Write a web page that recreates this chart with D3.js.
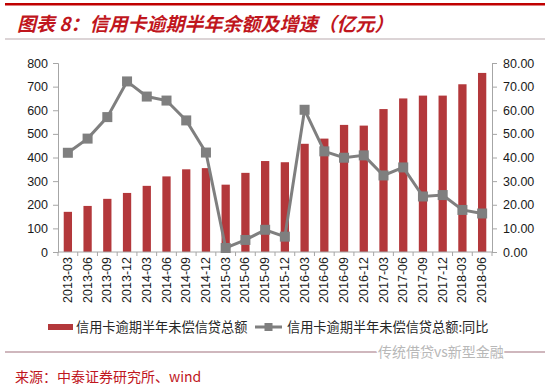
<!DOCTYPE html>
<html>
<head>
<meta charset="utf-8">
<script src="https://cdn.jsdelivr.net/npm/d3@7"></script>
<style>
  body { margin: 0; background: #fff; }
  svg { display: block; font-family: "Liberation Sans", "Noto Sans", sans-serif; }
</style>
</head>
<body>
<svg id="chart" width="550" height="387"></svg>
<script>
// data
var quarters = ["2013-03","2013-06","2013-09","2013-12","2014-03","2014-06","2014-09","2014-12",
  "2015-03","2015-06","2015-09","2015-12","2016-03","2016-06","2016-09","2016-12",
  "2017-03","2017-06","2017-09","2017-12","2018-03","2018-06"];
var balance = [170, 195, 225, 250, 280, 320, 350, 355, 285, 335, 385, 380,
  458, 480, 538, 535, 605, 650, 662, 662, 710, 758];
var growth = [42.0, 48.0, 57.1, 72.2, 65.8, 64.1, 55.7, 42.1, 1.7, 5.1, 9.4, 6.5,
  60.2, 42.6, 39.9, 40.9, 32.4, 35.8, 23.5, 24.1, 17.8, 16.3];
var leftTicks = [0, 100, 200, 300, 400, 500, 600, 700, 800];
var rightTicks = [0, 10, 20, 30, 40, 50, 60, 70, 80];

var svg = d3.select("#chart");
// plot box (note: "top" is reserved on window, so use plot* names)
var plotL = 58, plotR = 492, plotT = 63, plotB = 252;

var x = d3.scaleBand().domain(quarters).range([plotL, plotR]).paddingInner(0.58).paddingOuter(0.29);
var xb = d3.scaleBand().domain(quarters).range([plotL, plotR]);
var yL = d3.scaleLinear().domain([0, 800]).range([plotB, plotT]);
var yR = d3.scaleLinear().domain([0, 80]).range([plotB, plotT]);

// title
svg.append("rect").attr("x", 5).attr("y", 3).attr("width", 540).attr("height", 2.5).attr("fill", "#c00000");
svg.append("text").attr("x", 17).attr("y", 31)
  .attr("font-family", "Noto Sans CJK SC").attr("font-size", 19).attr("font-style", "italic")
  .attr("font-weight", "bold").attr("fill", "#c0161d")
  .text("图表 8：信用卡逾期半年余额及增速（亿元）");
svg.append("line").attr("x1", 5).attr("x2", 545).attr("y1", 39).attr("y2", 39)
  .attr("stroke", "#b9a9ad").attr("stroke-width", 1.2);

// bars
svg.append("g").selectAll("rect").data(balance).enter().append("rect")
  .attr("x", function(d, i) { return x(quarters[i]); })
  .attr("width", x.bandwidth())
  .attr("y", function(d) { return yL(d); })
  .attr("height", function(d) { return plotB - yL(d); })
  .attr("fill", "#b3383b");

// axes
var axisColor = "#a6a6a6";
var gl = svg.append("g").attr("transform", "translate(" + plotL + ",0)")
  .call(d3.axisLeft(yL).tickValues(leftTicks).tickSize(5).tickPadding(5));
var gr = svg.append("g").attr("transform", "translate(" + plotR + ",0)")
  .call(d3.axisRight(yR).tickValues(rightTicks).tickSize(5).tickPadding(6).tickFormat(d3.format(".2f")));
[gl, gr].forEach(function(g) {
  g.select(".domain").attr("stroke", axisColor);
  g.selectAll(".tick line").attr("stroke", axisColor);
  g.selectAll("text").attr("font-size", 12.5).attr("fill", "#1a1a1a");
});

// x axis line + ticks at band edges
svg.append("line").attr("x1", plotL).attr("x2", plotR).attr("y1", plotB).attr("y2", plotB)
  .attr("stroke", axisColor);
svg.append("g").selectAll("line").data(quarters.concat(["end"])).enter().append("line")
  .attr("x1", function(d, i) { return plotL + i * xb.step(); })
  .attr("x2", function(d, i) { return plotL + i * xb.step(); })
  .attr("y1", plotB).attr("y2", plotB + 4)
  .attr("stroke", axisColor);
svg.append("g").selectAll("text").data(quarters).enter().append("text")
  .attr("transform", function(d) { return "translate(" + (xb(d) + xb.bandwidth() / 2 + 4) + "," + (plotB + 5) + ") rotate(-90)"; })
  .attr("text-anchor", "end").attr("font-size", 12.5).attr("fill", "#1a1a1a")
  .text(function(d) { return d; });

// line
var cx = function(d, i) { return xb(quarters[i]) + xb.bandwidth() / 2; };
svg.append("path").datum(growth)
  .attr("d", d3.line().x(cx).y(function(d) { return yR(d); }))
  .attr("fill", "none").attr("stroke", "#7f7f7f").attr("stroke-width", 3);
svg.append("g").selectAll("rect").data(growth).enter().append("rect")
  .attr("x", function(d, i) { return cx(d, i) - 5; })
  .attr("y", function(d) { return yR(d) - 5; })
  .attr("width", 10).attr("height", 10).attr("fill", "#7f7f7f");

// legend
var lg = svg.append("g").attr("font-family", "Noto Sans CJK SC").attr("font-size", 13.2).attr("fill", "#262626");
lg.append("rect").attr("x", 48).attr("y", 324).attr("width", 25).attr("height", 6).attr("fill", "#b3383b");
lg.append("text").attr("x", 76).attr("y", 332).text("信用卡逾期半年未偿信贷总额");
lg.append("line").attr("x1", 255).attr("x2", 282).attr("y1", 327).attr("y2", 327)
  .attr("stroke", "#7f7f7f").attr("stroke-width", 3);
lg.append("rect").attr("x", 264.5).attr("y", 323).attr("width", 8).attr("height", 8).attr("fill", "#7f7f7f");
lg.append("text").attr("x", 287).attr("y", 332).text("信用卡逾期半年未偿信贷总额:同比");

// footer
svg.append("line").attr("x1", 5).attr("x2", 545).attr("y1", 352).attr("y2", 352)
  .attr("stroke", "#a0707c").attr("stroke-width", 1.2);
svg.append("text").attr("x", 378).attr("y", 357)
  .attr("font-family", "Noto Sans CJK SC").attr("font-size", 14).attr("fill", "#b8b8b8")
  .attr("stroke", "#fff").attr("stroke-width", 3).attr("paint-order", "stroke")
  .text("传统借贷vs新型金融");
svg.append("text").attr("x", 15).attr("y", 382)
  .attr("font-family", "Noto Sans CJK SC").attr("font-size", 14).attr("fill", "#c0161d")
  .text("来源：中泰证券研究所、wind");
</script>
</body>
</html>
